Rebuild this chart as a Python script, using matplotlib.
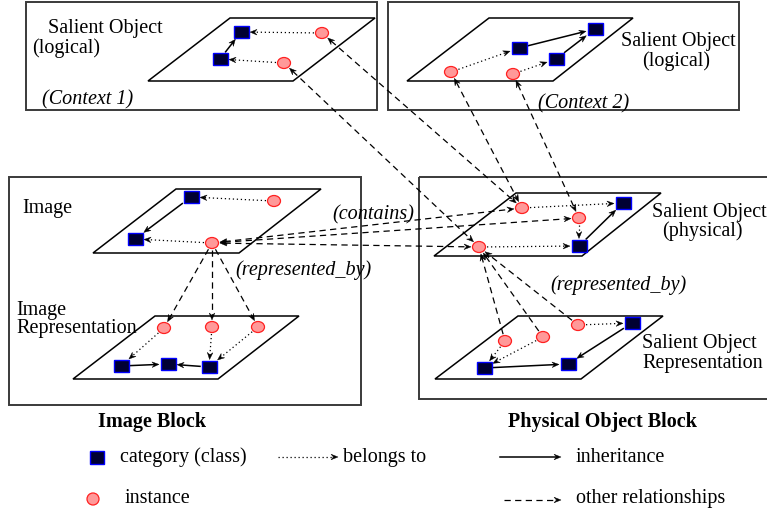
import numpy as np
import matplotlib.pyplot as plt
from matplotlib.patches import Rectangle, Ellipse, Polygon

# nodes of the diagram (pixel coordinates of the reference)
class_names = ['c1a', 'c1b', 'c2a', 'c2b', 'c2c', 'ia', 'ib', 'ra', 'rb', 'rc',
               'pa', 'pb', 'sa', 'sb', 'sc']
class_x = [241, 220, 595, 519, 556, 191, 135, 121, 168, 209, 623, 579, 632, 568, 484]
class_y = [32, 59, 29, 48, 59, 197, 239, 366, 364, 367, 203, 246, 323, 364, 368]

inst_names = ['c1i1', 'c1i2', 'c2i1', 'c2i2', 'ii1', 'ii2', 'ri1', 'ri2', 'ri3',
              'pi1', 'pi2', 'pi3', 'si1', 'si2', 'si3']
inst_x = [322, 284, 451, 513, 274, 212, 164, 212, 258, 522, 579, 479, 578, 543, 505]
inst_y = [33, 63, 72, 74, 201, 243, 328, 327, 327, 208, 218, 247, 325, 337, 341]

belongs_to = [('c1i1', 'c1a'), ('c1i2', 'c1b'), ('c2i1', 'c2b'), ('c2i2', 'c2c'),
              ('ii1', 'ia'), ('ii2', 'ib'), ('ri1', 'ra'), ('ri2', 'rc'), ('ri3', 'rc'),
              ('pi1', 'pa'), ('pi3', 'pb'), ('pi2', 'pb'), ('si1', 'sa'),
              ('si2', 'sc'), ('si3', 'sc')]
inheritance = [('c1b', 'c1a'), ('c2b', 'c2a'), ('c2c', 'c2a'), ('ia', 'ib'),
               ('ra', 'rb'), ('rc', 'rb'), ('pb', 'pa'), ('sa', 'sb'), ('sc', 'sb')]
other_oneway = [('ii2', 'ri1'), ('ii2', 'ri2'), ('ii2', 'ri3'),
                ('si3', 'pi3'), ('si2', 'pi3'), ('si1', 'pi3')]
other_twoway = [('c1i1', 'pi1'), ('c1i2', 'pi3'), ('c2i1', 'pi1'), ('c2i2', 'pi2'),
                ('ii2', 'pi1'), ('ii2', 'pi2'), ('ii2', 'pi3')]

SQ_W, SQ_H = 15, 12
CI_W, CI_H = 13, 11
FONT = 'Liberation Serif'
FS = 14.5

nodes = {}
for n, x, y in zip(class_names, class_x, class_y):
    nodes[n] = ('class', x, y)
for n, x, y in zip(inst_names, inst_x, inst_y):
    nodes[n] = ('inst', x, y)

fig = plt.figure(figsize=(7.67, 5.14), dpi=100)
ax = fig.add_axes([0, 0, 1, 1])
ax.set_xlim(0, 767)
ax.set_ylim(514, 0)
ax.axis('off')


def edge_point(name, toward):
    kind, x, y = nodes[name]
    dx, dy = toward[0] - x, toward[1] - y
    d = np.hypot(dx, dy)
    if kind == 'class':
        hw, hh = SQ_W / 2, SQ_H / 2
        t = min(hw / abs(dx) if dx else 1e9, hh / abs(dy) if dy else 1e9)
        r = t * d
    else:
        rx, ry = CI_W / 2, CI_H / 2
        r = d / np.sqrt((dx / rx) ** 2 + (dy / ry) ** 2)
    r += 1.5
    return np.array([x + dx / d * r, y + dy / d * r])


def head(tip, back, L=7, W=2.8):
    u = (tip - back) / np.hypot(*(tip - back))
    n = np.array([-u[1], u[0]])
    pts = [tip, tip - L * u + W * n, tip - 0.65 * L * u, tip - L * u - W * n]
    ax.add_patch(Polygon(pts, closed=True, color='black', lw=0.3, zorder=4))
    return tip - 0.65 * L * u


def arrow(p, q, ls, both=False, lw=0.9):
    p, q = np.array(p, float), np.array(q, float)
    q2 = head(q, p)
    p2 = head(p, q) if both else p
    ax.plot([p2[0], q2[0]], [p2[1], q2[1]], color='black', lw=lw, ls=ls, zorder=2)


def link(a, b, ls, both=False, lw=0.9):
    pa = nodes[a][1:]
    pb = nodes[b][1:]
    arrow(edge_point(a, pb), edge_point(b, pa), ls, both, lw)


DOT = (0, (1, 2.2))
DASH = (0, (5, 3.5))

# block frames
for x0, y0, x1, y1 in [(26, 2, 377, 110), (388, 2, 739, 110),
                       (9, 177, 361, 405), (419, 177, 775, 399)]:
    ax.add_patch(Rectangle((x0, y0), x1 - x0, y1 - y0, fill=False,
                           ec='#3a3a3a', lw=1.4, zorder=1))

# planes
planes = [(230, 375, 148, 293, 18, 81), (489, 633, 407, 553, 18, 81),
          (176, 321, 93, 239, 189, 253), (155, 299, 73, 218, 316, 379),
          (516, 661, 434, 582, 193, 256), (518, 663, 435, 581, 316, 379)]
for tl, tr, bl, br, yt, yb in planes:
    ax.add_patch(Polygon([(tl, yt), (tr, yt), (br, yb), (bl, yb)], closed=True,
                         fill=False, ec='black', lw=1.1, zorder=1))

for a, b in belongs_to:
    link(a, b, DOT)
for a, b in inheritance:
    link(a, b, '-', lw=1.1)
for a, b in other_oneway:
    link(a, b, DASH)
for a, b in other_twoway:
    link(a, b, DASH, both=True)

for n, (kind, x, y) in nodes.items():
    if kind == 'class':
        ax.add_patch(Rectangle((x - SQ_W / 2, y - SQ_H / 2), SQ_W, SQ_H,
                               fc='#000033', ec='#0000ff', lw=1.0, zorder=5))
    else:
        ax.add_patch(Ellipse((x, y), CI_W, CI_H, fc='#ff9999', ec='#ff2020',
                             lw=0.9, zorder=5))

labels = [
    (48, 33, 'Salient Object', 'normal'), (32, 53, '(logical)', 'normal'),
    (42, 104, '(Context 1)', 'italic'),
    (621, 46, 'Salient Object', 'normal'), (642, 66, '(logical)', 'normal'),
    (538, 108, '(Context 2)', 'italic'),
    (22, 213, 'Image', 'normal'),
    (16, 315, 'Image', 'normal'), (16, 333, 'Representation', 'normal'),
    (235, 275, '(represented_by)', 'italic'),
    (332, 219, '(contains)', 'italic'),
    (652, 217, 'Salient Object', 'normal'), (662, 236, '(physical)', 'normal'),
    (550, 290, '(represented_by)', 'italic'),
    (642, 348, 'Salient Object', 'normal'), (642, 368, 'Representation', 'normal'),
]
for x, y, s, st in labels:
    ax.text(x, y, s, fontsize=FS, family=FONT, style=st, va='baseline',
            ha='left', zorder=6)

ax.text(98, 427, 'Image Block', fontsize=FS, family=FONT, weight='bold',
        va='baseline')
ax.text(508, 427, 'Physical Object Block', fontsize=FS, family=FONT,
        weight='bold', va='baseline')

# legend
ax.add_patch(Rectangle((90, 451), 14, 13, fc='#000033', ec='#0000ff', lw=1.0))
ax.text(120, 462, 'category (class)', fontsize=FS, family=FONT, va='baseline')
arrow((278, 457), (338, 457), DOT)
ax.text(343, 462, 'belongs to', fontsize=FS, family=FONT, va='baseline')
arrow((500, 457), (561, 457), '-', lw=1.1)
ax.text(576, 462, 'inheritance', fontsize=FS, family=FONT, va='baseline')
ax.add_patch(Ellipse((93, 499), 12, 12, fc='#ff9999', ec='#ff2020', lw=0.9))
ax.text(125, 503, 'instance', fontsize=FS, family=FONT, va='baseline')
arrow((504, 500), (561, 500), DASH)
ax.text(576, 503, 'other relationships', fontsize=FS, family=FONT, va='baseline')

fig.savefig('out.png', dpi=100)
